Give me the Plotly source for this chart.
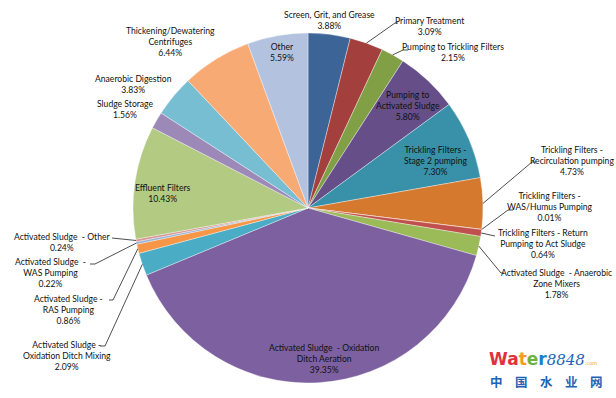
import math
import plotly.graph_objects as go

# ---------------- data ----------------
labels = [
    "Screen, Grit, and Grease", "Primary Treatment", "Pumping to Trickling Filters",
    "Pumping to Activated Sludge", "Trickling Filters - Stage 2 pumping",
    "Trickling Filters - Recirculation pumping", "Trickling Filters - WAS/Humus Pumping",
    "Trickling Filters - Return Pumping to Act Sludge", "Activated Sludge - Anaerobic Zone Mixers",
    "Activated Sludge - Oxidation Ditch Aeration", "Activated Sludge - Oxidation Ditch Mixing",
    "Activated Sludge - RAS Pumping", "Activated Sludge - WAS Pumping", "Activated Sludge - Other",
    "Effluent Filters", "Sludge Storage", "Anaerobic Digestion",
    "Thickening/Dewatering Centrifuges", "Other",
]
values = [3.88, 3.09, 2.15, 5.80, 7.30, 4.73, 0.01, 0.64, 1.78, 39.35,
          2.09, 0.86, 0.22, 0.24, 10.43, 1.56, 3.83, 6.44, 5.59]
# how each label is broken into lines
label_text = [
    "Screen, Grit, and Grease", "Primary Treatment", "Pumping to Trickling Filters",
    "Pumping to<br>Activated Sludge", "Trickling Filters -<br>Stage 2 pumping",
    "Trickling Filters -<br>Recirculation pumping", "Trickling Filters -<br>WAS/Humus Pumping",
    "Trickling Filters - Return<br>Pumping to Act Sludge", "Activated Sludge  - Anaerobic<br>Zone Mixers",
    "Activated Sludge  - Oxidation<br>Ditch Aeration", "Activated Sludge -<br>Oxidation Ditch Mixing",
    "Activated Sludge -<br>RAS Pumping", "Activated Sludge  -<br>WAS Pumping", "Activated Sludge  - Other",
    "Effluent Filters", "Sludge Storage", "Anaerobic Digestion",
    "Thickening/Dewatering<br>Centrifuges", "Other",
]
colors = ["#3C6497", "#A3403D", "#81A046", "#664E88", "#3891A8", "#D5792F",
          "#4F81BD", "#C0504D", "#9BBB59", "#7D60A0", "#4BACC6", "#F79646",
          "#95B3D7", "#D99694", "#B2CA82", "#9D89B8", "#78BED3", "#F8AA74", "#B3C3DF"]

# ---------------- layout (pixels) ----------------
W, H = 616, 398
CX, CY, R = 308, 208, 175
# label centre positions (px) and leader-line elbow (px) or None
label_pos = [
    (329, 21), (429, 26.5), (453, 52.5), (408, 106), (435, 161),
    (572, 161), (550, 207), (543, 244), (556, 284), (324, 359),
    (67, 355.5), (68, 310), (50, 273), (62, 242.5), (163, 193),
    (125, 109.5), (133, 85), (170, 42.5), (282, 52.5),
]
elbow = [
    None, (395, 23), (403, 50), None, None,
    (532, 162), (508, 210), (495, 236), (501, 273), None,
    (105, 346), (113, 300), (95, 264), (112, 238), None,
    None, None, None, None,
]
elbow_tick = [
    None, 3, 5, None, None, 4, 5, 0, 3, None,
    5, 4, 5, 0, None, None, None, None, None,
]

def px(x):
    return x / W

def py(y):
    return 1 - y / H

fig = go.Figure(go.Pie(
    labels=labels, values=values, sort=False, direction="clockwise", rotation=0,
    marker=dict(colors=colors, line=dict(color="rgba(255,255,255,0.6)", width=0.6)),
    textinfo="none", hoverinfo="label+percent", showlegend=False,
    domain=dict(x=[px(CX - R), px(CX + R)], y=[py(CY + R), py(CY - R)]),
))

total = sum(values)
cum = 0.0
annotations = []
shapes = []
FONT = dict(family="Lato, 'Open Sans', sans-serif", size=8.6, color="#111111")
for i, v in enumerate(values):
    mid = (cum + v / 2) / total * 2 * math.pi
    cum += v
    lx, ly = label_pos[i]
    annotations.append(dict(
        x=px(lx), y=py(ly), xref="paper", yref="paper", showarrow=False,
        text=f"{label_text[i]}<br>{v:.2f}%", align="center",
        xanchor="center", yanchor="middle", font=FONT,
    ))
    if elbow[i] is not None:
        ex, ey = CX + R * math.sin(mid), CY - R * math.cos(mid)
        bx, by = elbow[i]
        t = elbow_tick[i]
        tx = bx + (t if bx > CX else -t)
        path = f"M {px(tx)} {py(by)} L {px(bx)} {py(by)} L {px(ex)} {py(ey)}"
        shapes.append(dict(type="path", path=path, xref="paper", yref="paper",
                           line=dict(color="#222222", width=0.8)))

# watermark
annotations.append(dict(
    x=px(487), y=py(359), xref="paper", yref="paper", showarrow=False,
    xanchor="left", yanchor="middle",
    text=("<b><span style='color:#E0323A'>Wa</span><span style='color:#F39C1E'>t</span>"
          "<span style='color:#6DB33F'>e</span><span style='color:#1C7FCC'>r</span></b>"
          "<span style='font-family:DejaVu Serif;font-style:italic;font-size:15px;color:#1F63B5'>8848</span>"
          "<span style='font-size:5px;color:#F39C1E'>.com</span>"),
    font=dict(family="DejaVu Sans, sans-serif", size=17, color="#E0323A"),
))
annotations.append(dict(
    x=px(546), y=py(381), xref="paper", yref="paper", showarrow=False,
    xanchor="center", yanchor="middle",
    text="<b>中　国　水　业　网</b>",
    font=dict(family="Noto Sans CJK SC", size=12.5, color="#1F63B5"),
))

fig.update_layout(
    width=W, height=H, margin=dict(l=0, r=0, t=0, b=0),
    paper_bgcolor="white", plot_bgcolor="white",
    annotations=annotations, shapes=shapes,
)
fig.write_html("out.html", config={"displayModeBar": False},
               post_script="document.body.style.margin='0';document.body.style.overflow='hidden';")
